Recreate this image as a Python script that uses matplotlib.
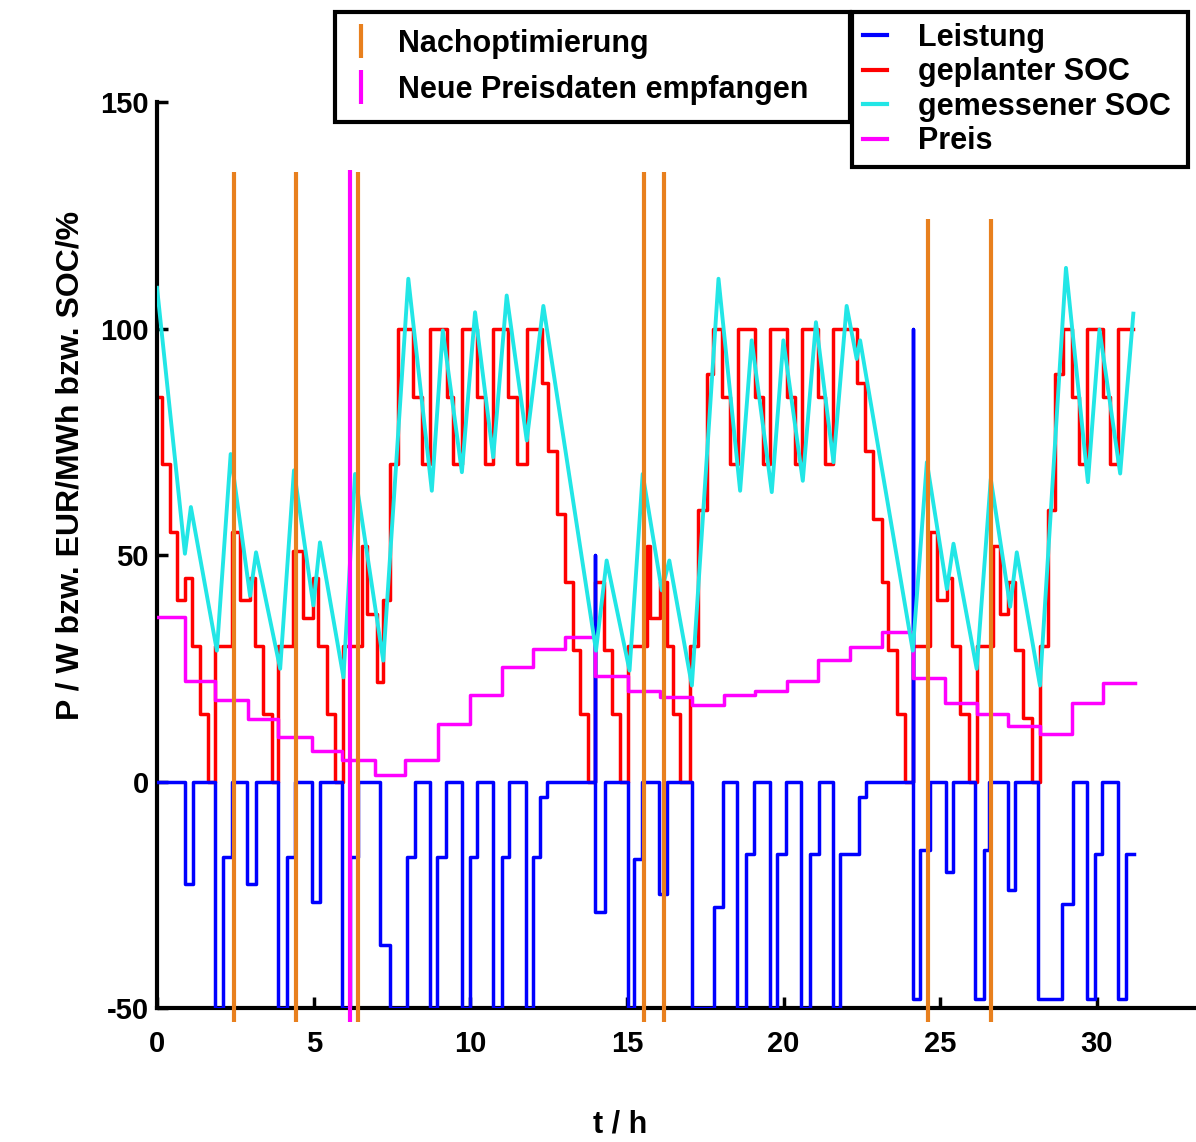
import matplotlib
matplotlib.use("Agg")
import matplotlib.pyplot as plt
from matplotlib.lines import Line2D

plt.rcParams['font.family'] = ['Liberation Sans', 'DejaVu Sans']
plt.rcParams['font.weight'] = 'bold'
plt.rcParams['axes.unicode_minus'] = False

# Leistung (power), step curve
p_t = [0, 0.89, 1.14, 1.85, 2.12, 2.38, 2.86, 3.16, 3.87, 4.14, 4.40, 4.94, 5.20, 5.90, 6.16,
       6.43, 7.12, 7.44, 7.97, 8.23, 8.71, 8.95, 9.22, 9.73, 9.99, 10.20, 10.73, 11.00, 11.24,
       11.77, 11.99, 12.22, 12.44, 13.98, 13.99, 14.30, 15.04, 15.23, 15.47, 16.01, 16.29, 17.07,
       17.79, 18.07, 18.51, 18.79, 19.06, 19.57, 19.79, 20.07, 20.56, 20.84, 21.12, 21.56, 21.79,
       22.40, 22.62, 24.12, 24.13, 24.34, 24.67, 25.17, 25.39, 26.12, 26.39, 26.56, 27.17, 27.39,
       28.11, 28.89, 29.22, 29.67, 29.95, 30.17, 30.67, 30.94, 31.17]
p_v = [0, -22.6, 0, -50, -16.7, 0, -22.6, 0, -50, -16.7, 0, -26.6, 0, -50, -16.7,
       0, -36, -50, -16.7, 0, -50, -16.7, 0, -50, -16.7, 0, -50, -16.7, 0,
       -50, -16.7, -3.5, 0, 50, -28.8, 0, -50, -17, 0, -24.8, 0, -50,
       -27.7, 0, -50, -16, 0, -50, -16, 0, -50, -16, 0, -50, -16,
       -3.5, 0, 100, -48, -15, 0, -20, 0, -48, -15, 0, -24, 0,
       -48, -27, 0, -48, -16, 0, -48, -16, -16]

# geplanter SOC, step curve
r_t = [0, 0.15, 0.41, 0.63, 0.89, 1.11, 1.37, 1.64, 1.85, 2.38,
       2.65, 2.97, 3.13, 3.39, 3.66, 3.87, 4.35, 4.67, 4.99, 5.15,
       5.42, 5.68, 5.95, 6.53, 6.69, 7.01, 7.22, 7.44, 7.70, 8.18,
       8.45, 8.71, 9.25, 9.46, 9.73, 10.20, 10.47, 10.73, 11.21, 11.48,
       11.80, 12.28, 12.49, 12.76, 13.02, 13.29, 13.50, 13.77, 13.98, 14.25,
       14.51, 14.78, 15.04, 15.63, 15.74, 16.05, 16.27, 16.48, 16.69, 17.01,
       17.28, 17.55, 17.76, 18.02, 18.29, 18.55, 19.09, 19.35, 19.57, 20.10,
       20.36, 20.58, 21.11, 21.32, 21.59, 22.33, 22.60, 22.86, 23.13, 23.34,
       23.61, 23.87, 24.14, 24.67, 24.89, 25.21, 25.37, 25.63, 25.90, 26.16,
       26.69, 26.91, 27.17, 27.39, 27.65, 27.92, 28.18, 28.45, 28.66, 28.93,
       29.20, 29.41, 29.67, 30.20, 30.42, 30.68, 31.16]
r_v = [85, 70, 55, 40, 45, 30, 15, 0, 30, 55,
       40, 45, 30, 15, 0, 30, 51, 36, 45, 30,
       15, 0, 30, 52, 37, 22, 40, 70, 100, 85,
       70, 100, 85, 70, 100, 85, 70, 100, 85, 70,
       100, 88, 73, 59, 44, 29, 15, 0, 44, 29,
       15, 0, 30, 52, 36, 44, 30, 15, 0, 30,
       60, 90, 100, 85, 70, 100, 85, 70, 100, 85,
       70, 100, 85, 70, 100, 88, 73, 58, 44, 29,
       15, 0, 30, 55, 40, 45, 30, 15, 0, 30,
       52, 37, 44, 29, 14, 0, 30, 60, 90, 100,
       85, 70, 100, 85, 70, 100, 100]

# gemessener SOC
c_t = [0, 0.89, 1.08, 1.91, 2.35, 2.97, 3.16, 3.93, 4.37, 4.99,
       5.20, 5.95, 6.32, 7.22, 8.02, 8.77, 9.12, 9.73, 10.15, 10.73,
       11.16, 11.80, 12.33, 14.01, 14.35, 15.08, 15.50, 16.11, 16.35, 17.07,
       17.92, 18.61, 18.98, 19.62, 19.99, 20.61, 21.03, 21.59, 22.01, 22.33,
       22.44, 24.12, 24.57, 25.21, 25.42, 26.16, 26.61, 27.23, 27.44, 28.18,
       29.01, 29.71, 30.08, 30.74, 31.16]
c_v = [109, 50.3, 60.6, 28.9, 72.3, 41, 50.6, 24.9, 68.7, 38.9,
       52.8, 23, 67.9, 26.7, 111, 64.2, 99.6, 68.3, 103.6, 71.6,
       107.3, 75.3, 105, 28.9, 48.8, 24.5, 67.9, 42.2, 48.8, 21.2,
       111, 64.2, 97.4, 63.9, 97.4, 66.4, 101.4, 70.5, 105, 93.3,
       97.4, 28.9, 70.5, 42.5, 52.5, 24.9, 66.8, 38.6, 50.6, 21.2,
       113.4, 66.1, 99.8, 68, 103.3]

# Preis, step curve
pr_t = [0, 0.89, 1.85, 2.91, 3.87, 4.94, 5.90, 6.96, 7.92, 8.98,
        9.99, 11.00, 12.01, 13.02, 13.98, 15.04, 16.05, 17.07, 18.08, 19.09,
        20.10, 21.11, 22.12, 23.13, 24.12, 25.15, 26.16, 27.17, 28.18, 29.20,
        30.20, 31.22]
pr_v = [36.3, 22.3, 17.9, 13.8, 9.9, 6.7, 4.8, 1.5, 4.8, 12.7,
        19, 25.2, 29.3, 31.9, 23.4, 20.1, 18.6, 17, 19, 20,
        22.1, 26.9, 29.6, 33, 22.9, 17.3, 14.9, 12.3, 10.5, 17.3,
        21.8, 21.8]

# events
reopt_t = [2.46, 4.43, 6.43, 15.54, 16.18, 24.61, 26.62]
reopt_top = [134.5, 134.5, 134.5, 134.5, 134.5, 124.3, 124.3]
price_t = [6.16]
price_top = [135]

c_blue = '#0000ff'
c_red = '#ff0000'
c_cyan = '#22e6e6'
c_mag = '#ff00ff'
c_orange = '#e8801e'

fig = plt.figure(figsize=(11.96, 11.42), dpi=100)
ax = fig.add_axes([0.1313, 0.1173, 0.8687, 0.7933])

ax.plot(r_t, r_v, drawstyle='steps-post', color=c_red, lw=2.5, zorder=2)
ax.plot(p_t, p_v, drawstyle='steps-post', color=c_blue, lw=2.5, zorder=3)
ax.plot(pr_t, pr_v, drawstyle='steps-post', color=c_mag, lw=2.5, zorder=3)
ax.plot(c_t, c_v, color=c_cyan, lw=2.8, zorder=4)

ax.vlines(reopt_t, -53, reopt_top, color=c_orange, lw=3, zorder=5, clip_on=False)
ax.vlines(price_t, -53, price_top, color=c_mag, lw=3, zorder=5, clip_on=False)

ax.set_xlim(0, 33.16)
ax.set_ylim(-50, 150)
ax.set_xticks([0, 5, 10, 15, 20, 25, 30])
ax.set_yticks([-50, 0, 50, 100, 150])

for s in ['top', 'right']:
    ax.spines[s].set_visible(False)
for s in ['left', 'bottom']:
    ax.spines[s].set_linewidth(3)

ax.tick_params(axis='both', direction='in', length=8, width=2.5, labelsize=21)
ax.tick_params(axis='x', pad=16)
ax.tick_params(axis='y', pad=6)

ax.set_xlabel('t / h', fontsize=22, fontweight='bold', va='center')
ax.xaxis.set_label_coords(0.4456, -0.129)
ax.set_ylabel('P / W bzw. EUR/MWh bzw. SOC/%', fontsize=23, fontweight='bold',
              va='center', ha='center')
ax.yaxis.set_label_coords(-0.0837, 0.599)

prop = {'family': 'Liberation Sans', 'weight': 'bold', 'size': 22}

h1 = [Line2D([], [], color=c_orange, marker='|', linestyle='None', markersize=24, markeredgewidth=3),
      Line2D([], [], color=c_mag, marker='|', linestyle='None', markersize=24, markeredgewidth=3)]
leg1 = ax.legend(h1, ['Nachoptimierung', 'Neue Preisdaten empfangen'],
                 loc='upper left', bbox_to_anchor=(0.2801, 0.8923, 0.4306, 0.0972),
                 bbox_transform=fig.transFigure, mode='expand', prop=prop,
                 fancybox=False, framealpha=1, edgecolor='black', borderpad=0.55,
                 borderaxespad=0, labelspacing=0.53, handlelength=0.6, handletextpad=0.9)
leg1.get_frame().set_linewidth(3)
ax.add_artist(leg1)

h2 = [Line2D([], [], color=c, lw=3) for c in [c_blue, c_red, c_cyan, c_mag]]
leg2 = ax.legend(h2, ['Leistung', 'geplanter SOC', 'gemessener SOC', 'Preis'],
                 loc='upper left', bbox_to_anchor=(0.7124, 0.8538, 0.2809, 0.1357),
                 bbox_transform=fig.transFigure, mode='expand', prop=prop,
                 fancybox=False, framealpha=1, edgecolor='black', borderpad=0.35,
                 borderaxespad=0, labelspacing=0.15, handlelength=0.8, handletextpad=1.0)
leg2.get_frame().set_linewidth(3)

fig.savefig('out.png', dpi=100)
